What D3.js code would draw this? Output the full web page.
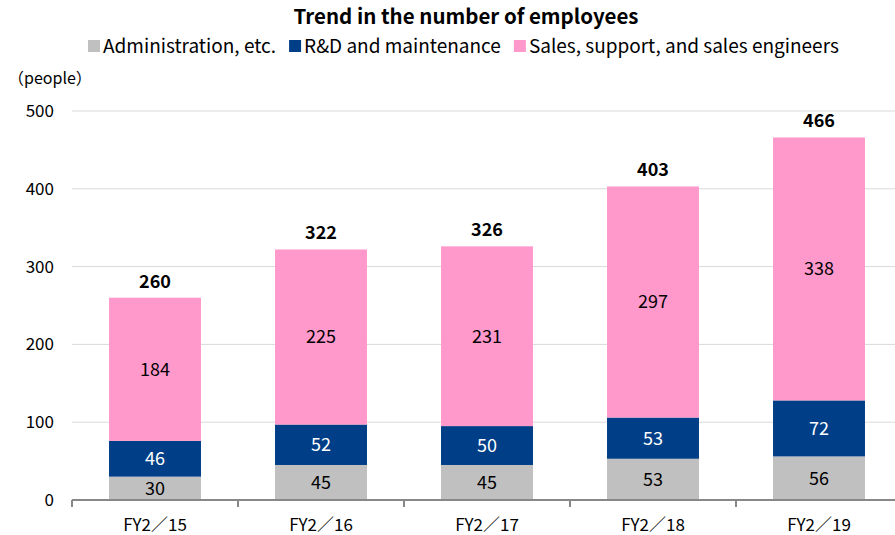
<!DOCTYPE html>
<html>
<head>
<meta charset="utf-8">
<script src="https://cdn.jsdelivr.net/npm/d3@7"></script>
<style>
  body { margin: 0; background: #fff; }
  svg text { font-family: "Noto Sans CJK JP", "Noto Sans", sans-serif; }
</style>
</head>
<body>
<div id="chart"></div>
<script>
const years = ['FY2／15', 'FY2／16', 'FY2／17', 'FY2／18', 'FY2／19'];
const admin = [30, 45, 45, 53, 56];
const rnd = [46, 52, 50, 53, 72];
const sales = [184, 225, 231, 297, 338];
const totals = [260, 322, 326, 403, 466];
const yTicks = [0, 100, 200, 300, 400, 500];

const seriesNames = ['Administration, etc.', 'R&D and maintenance', 'Sales, support, and sales engineers'];
const seriesKeys = ['admin', 'rnd', 'sales'];
const colors = ['#c0c0c0', '#003f87', '#ff99cc'];
const labelColors = ['#000', '#fff', '#000'];

const W = 895, H = 535;
const margin = { top: 111, right: -7, bottom: 35, left: 72 };

const table = years.map((y, i) => ({ year: y, admin: admin[i], rnd: rnd[i], sales: sales[i], total: totals[i] }));

const svg = d3.select('#chart').append('svg')
  .attr('width', W)
  .attr('height', H);

const x = d3.scaleBand()
  .domain(years)
  .range([margin.left, W - margin.right])
  .paddingInner(0.446)
  .paddingOuter(0.223);

const y = d3.scaleLinear()
  .domain([0, 500])
  .range([H - margin.bottom, margin.top]);

// gridlines
svg.append('g')
  .selectAll('line')
  .data(yTicks.slice(1))
  .join('line')
  .attr('x1', margin.left)
  .attr('x2', W)
  .attr('y1', d => y(d))
  .attr('y2', d => y(d))
  .attr('stroke', '#d9d9d9')
  .attr('stroke-width', 1);

// y tick labels
svg.append('g')
  .selectAll('text')
  .data(yTicks)
  .join('text')
  .attr('x', 54)
  .attr('y', d => y(d))
  .attr('dy', '0.35em')
  .attr('text-anchor', 'end')
  .attr('font-size', 17)
  .attr('fill', '#000')
  .text(d => d);

svg.append('text')
  .attr('x', 8)
  .attr('y', 84)
  .attr('font-size', 16)
  .attr('fill', '#000')
  .text('（people）');

// stacked bars
const stack = d3.stack().keys(seriesKeys)(table);

const layers = svg.append('g')
  .selectAll('g')
  .data(stack)
  .join('g')
  .attr('fill', (d, i) => colors[i]);

layers.selectAll('rect')
  .data(d => d)
  .join('rect')
  .attr('x', d => x(d.data.year))
  .attr('width', x.bandwidth())
  .attr('y', d => y(d[1]))
  .attr('height', d => y(d[0]) - y(d[1]));

// segment labels
stack.forEach((layer, i) => {
  svg.append('g')
    .selectAll('text')
    .data(layer)
    .join('text')
    .attr('x', d => x(d.data.year) + x.bandwidth() / 2)
    .attr('y', d => (y(d[0]) + y(d[1])) / 2)
    .attr('dy', '0.36em')
    .attr('text-anchor', 'middle')
    .attr('font-size', 18)
    .attr('fill', labelColors[i])
    .text(d => d[1] - d[0]);
});

// totals
svg.append('g')
  .selectAll('text')
  .data(table)
  .join('text')
  .attr('x', d => x(d.year) + x.bandwidth() / 2)
  .attr('y', d => y(d.total) - 10)
  .attr('text-anchor', 'middle')
  .attr('font-size', 18)
  .attr('font-weight', 'bold')
  .attr('fill', '#000')
  .text(d => d.total);

// x axis
const step = x.step();
const boundaries = d3.range(years.length + 1).map(i => margin.left + i * step);
const axisY = y(0);

svg.append('line')
  .attr('x1', margin.left)
  .attr('x2', W)
  .attr('y1', axisY)
  .attr('y2', axisY)
  .attr('stroke', '#888')
  .attr('stroke-width', 2);

svg.append('g')
  .selectAll('line')
  .data(boundaries)
  .join('line')
  .attr('x1', d => d)
  .attr('x2', d => d)
  .attr('y1', axisY)
  .attr('y2', axisY + 7)
  .attr('stroke', '#888')
  .attr('stroke-width', 2);

svg.append('g')
  .selectAll('text')
  .data(years)
  .join('text')
  .attr('x', d => x(d) + x.bandwidth() / 2)
  .attr('y', 525)
  .attr('dy', '0.35em')
  .attr('text-anchor', 'middle')
  .attr('font-size', 17)
  .attr('fill', '#000')
  .text(d => d);

// title
svg.append('text')
  .attr('x', 466)
  .attr('y', 24)
  .attr('text-anchor', 'middle')
  .attr('font-size', 20.5)
  .attr('font-weight', 'bold')
  .attr('fill', '#000')
  .text('Trend in the number of employees');

// legend
const legend = svg.append('g').attr('transform', 'translate(88,46)');
let lx = 0;
seriesNames.forEach((name, i) => {
  const g = legend.append('g').attr('transform', `translate(${lx},0)`);
  g.append('rect')
    .attr('x', 0)
    .attr('y', -6)
    .attr('width', 12)
    .attr('height', 12)
    .attr('fill', colors[i]);
  const t = g.append('text')
    .attr('x', 15)
    .attr('y', 0)
    .attr('dy', '0.35em')
    .attr('font-size', 19)
    .attr('fill', '#000')
    .text(name);
  lx += 15 + t.node().getComputedTextLength() + 13;
});
</script>
</body>
</html>
